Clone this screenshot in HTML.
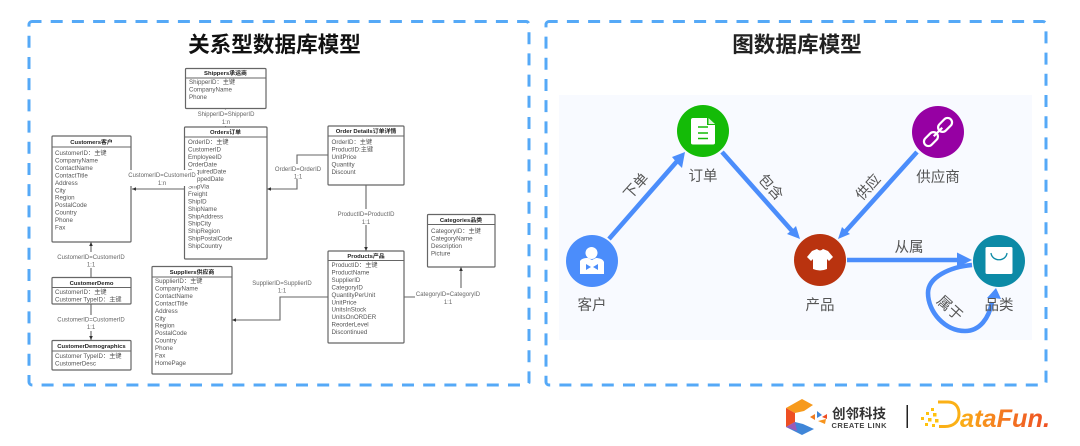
<!DOCTYPE html>
<html><head><meta charset="utf-8"><style>
html,body{margin:0;padding:0;background:#fff;width:1080px;height:446px;overflow:hidden}
svg{display:block}
.z{font-family:"Liberation Sans","Noto Sans CJK SC",sans-serif}
.r{font-size:6.2px;fill:#555}
.h{font-size:5.9px;fill:#222;font-weight:bold;text-anchor:middle}
.l{font-size:6px;fill:#666;text-anchor:middle}
.t{fill:#fff;stroke:#666;stroke-width:1.2}
.c{fill:none;stroke:#666;stroke-width:1.1}
.n{font-size:14.5px;fill:#555;text-anchor:middle}
</style></head><body>
<svg class="z" width="1080" height="446" viewBox="0 0 1080 446" xmlns="http://www.w3.org/2000/svg">
<defs>
<filter id="b" x="-5%" y="-5%" width="110%" height="110%"><feGaussianBlur stdDeviation="0.32"/></filter>
<linearGradient id="g" gradientUnits="userSpaceOnUse" x1="960" y1="0" x2="1050" y2="0"><stop offset="0" stop-color="#fbb016"/><stop offset=".45" stop-color="#f47b20"/><stop offset="1" stop-color="#ee4f23"/></linearGradient>
</defs>

<rect x="29" y="21.500" width="500" height="363.500" rx="3" fill="#fff" stroke="#55a9f7" stroke-width="3" stroke-dasharray="12 9.200" stroke-dashoffset="2.500"/>
<rect x="546" y="21.500" width="500" height="363.500" rx="3" fill="#fff" stroke="#55a9f7" stroke-width="3" stroke-dasharray="12 9.200" stroke-dashoffset="3.300"/>

<text x="274.500" y="52" text-anchor="middle" font-size="21.600" font-weight="bold" fill="#111">关系型数据库模型</text>
<text x="797" y="52" text-anchor="middle" font-size="21.600" font-weight="bold" fill="#222">图数据库模型</text>

<g filter="url(#b)">
<path class="c" d="M225.500 108V127M132 189H185M328 155H297V189H267M366 185V251M404 297H461V267M328 297H280V320H232M91 277V242M91 304V340"/>
<path d="M132 189l4-1.800v3.600zM267 189l4-1.800v3.600zM232 320l4-1.800v3.600zM366 251l-1.800-4h3.600zM461 267l-1.800 4h3.600zM91 242l-1.800 4h3.600zM91 340l-1.800-4h3.600z" fill="#333"/>

<rect class="t" x="185.500" y="68.500" width="80.500" height="40" rx="1"/><path class="c" d="M185.500 78H266"/>
<text class="h" x="225.500" y="75">Shippers承运商</text>
<text class="r" x="189" y="84">ShipperID：主键<tspan x="189" dy="7.450">CompanyName</tspan><tspan x="189" dy="7.450">Phone</tspan></text>

<rect class="t" x="184.500" y="127" width="82.500" height="132" rx="1"/><path class="c" d="M184.500 137H267"/>
<text class="h" x="225.500" y="134">Orders订单</text>
<text class="r" x="188" y="144">OrderID：主键<tspan x="188" dy="7.430">CustomerID</tspan><tspan x="188" dy="7.430">EmployeeID</tspan><tspan x="188" dy="7.430">OrderDate</tspan><tspan x="188" dy="7.430">RequiredDate</tspan><tspan x="188" dy="7.430">ShippedDate</tspan><tspan x="188" dy="7.430">ShipVia</tspan><tspan x="188" dy="7.430">Freight</tspan><tspan x="188" dy="7.430">ShipID</tspan><tspan x="188" dy="7.430">ShipName</tspan><tspan x="188" dy="7.430">ShipAddress</tspan><tspan x="188" dy="7.430">ShipCity</tspan><tspan x="188" dy="7.430">ShipRegion</tspan><tspan x="188" dy="7.430">ShipPostalCode</tspan><tspan x="188" dy="7.430">ShipCountry</tspan></text>

<rect class="t" x="52" y="136" width="79" height="106" rx="1"/><path class="c" d="M52 147H131"/>
<text class="h" x="91.500" y="144">Customers客户</text>
<text class="r" x="55" y="155">CustomerID：主键<tspan x="55" dy="7.450">CompanyName</tspan><tspan x="55" dy="7.450">ContactName</tspan><tspan x="55" dy="7.450">ContactTitle</tspan><tspan x="55" dy="7.450">Address</tspan><tspan x="55" dy="7.450">City</tspan><tspan x="55" dy="7.450">Region</tspan><tspan x="55" dy="7.450">PostalCode</tspan><tspan x="55" dy="7.450">Country</tspan><tspan x="55" dy="7.450">Phone</tspan><tspan x="55" dy="7.450">Fax</tspan></text>

<rect class="t" x="328" y="126" width="76" height="59" rx="1"/><path class="c" d="M328 136H404"/>
<text class="h" x="366" y="133">Order Details订单详情</text>
<text class="r" x="331.500" y="144">OrderID：主键<tspan x="331.500" dy="7.450">ProductID:主键</tspan><tspan x="331.500" dy="7.450">UnitPrice</tspan><tspan x="331.500" dy="7.450">Quantity</tspan><tspan x="331.500" dy="7.450">Discount</tspan></text>

<rect class="t" x="427.500" y="214.500" width="67.500" height="52.500" rx="1"/><path class="c" d="M427.500 224.500H495"/>
<text class="h" x="461" y="222">Categories品类</text>
<text class="r" x="431" y="233">CategoryID：主键<tspan x="431" dy="7.450">CategoryName</tspan><tspan x="431" dy="7.450">Description</tspan><tspan x="431" dy="7.450">Picture</tspan></text>

<rect class="t" x="328" y="251" width="76" height="92" rx="1"/><path class="c" d="M328 260.500H404"/>
<text class="h" x="366" y="258">Products产品</text>
<text class="r" x="331.500" y="267">ProductID：主键<tspan x="331.500" dy="7.450">ProductName</tspan><tspan x="331.500" dy="7.450">SupplierID</tspan><tspan x="331.500" dy="7.450">CategoryID</tspan><tspan x="331.500" dy="7.450">QuantityPerUnit</tspan><tspan x="331.500" dy="7.450">UnitPrice</tspan><tspan x="331.500" dy="7.450">UnitsInStock</tspan><tspan x="331.500" dy="7.450">UnitsOnORDER</tspan><tspan x="331.500" dy="7.450">ReorderLevel</tspan><tspan x="331.500" dy="7.450">Discontinued</tspan></text>

<rect class="t" x="152" y="266.500" width="80" height="107.500" rx="1"/><path class="c" d="M152 277H232"/>
<text class="h" x="192" y="274">Suppliers供应商</text>
<text class="r" x="155" y="283">SupplierID：主键<tspan x="155" dy="7.450">CompanyName</tspan><tspan x="155" dy="7.450">ContactName</tspan><tspan x="155" dy="7.450">ContactTitle</tspan><tspan x="155" dy="7.450">Address</tspan><tspan x="155" dy="7.450">City</tspan><tspan x="155" dy="7.450">Region</tspan><tspan x="155" dy="7.450">PostalCode</tspan><tspan x="155" dy="7.450">Country</tspan><tspan x="155" dy="7.450">Phone</tspan><tspan x="155" dy="7.450">Fax</tspan><tspan x="155" dy="7.450">HomePage</tspan></text>

<rect class="t" x="52" y="277.500" width="79" height="26.500" rx="1"/><path class="c" d="M52 287.500H131"/>
<text class="h" x="91.500" y="285">CustomerDemo</text>
<text class="r" x="55" y="294">CustomerID：主键<tspan x="55" dy="7.450">Customer TypeID：主键</tspan></text>

<rect class="t" x="52" y="340.500" width="79" height="29.500" rx="1"/><path class="c" d="M52 351H131"/>
<text class="h" x="91.500" y="348">CustomerDemographics</text>
<text class="r" x="55" y="358">Customer TypeID：主键<tspan x="55" dy="7.450">CustomerDesc</tspan></text>

<rect x="190" y="109.500" width="72" height="16.500" fill="#fff"/>
<rect x="127" y="170" width="70" height="16" fill="#fff"/>
<rect x="272" y="164" width="52" height="15" fill="#fff"/>
<rect x="335" y="209" width="62" height="16" fill="#fff"/>
<rect x="415" y="288" width="68" height="17" fill="#fff"/>
<rect x="251" y="278" width="62" height="15" fill="#fff"/>
<rect x="55" y="252" width="72" height="16" fill="#fff"/>
<rect x="55" y="315" width="72" height="16" fill="#fff"/>

<text class="l" x="226" y="116">ShipperID=ShipperID</text><text class="l" x="226" y="124">1:n</text>
<text class="l" x="162" y="177">CustomerID=CustomerID</text><text class="l" x="162" y="185">1:n</text>
<text class="l" x="298" y="171">OrderID=OrderID</text><text class="l" x="298" y="178.500">1:1</text>
<text class="l" x="366" y="216">ProductID=ProductID</text><text class="l" x="366" y="224">1:1</text>
<text class="l" x="448" y="296">CategoryID=CategoryID</text><text class="l" x="448" y="304">1:1</text>
<text class="l" x="282" y="285">SupplierID=SupplierID</text><text class="l" x="282" y="292.500">1:1</text>
<text class="l" x="91" y="259">CustomerID=CustomerID</text><text class="l" x="91" y="266.500">1:1</text>
<text class="l" x="91" y="321.500">CustomerID=CustomerID</text><text class="l" x="91" y="329">1:1</text>
</g>

<rect x="559" y="95" width="473" height="245" fill="#f8faff"/>

<g fill="none" stroke="#4b8dfb" stroke-width="4.600">
<path d="M609 239L679 159"/>
<path d="M722 152L793 232"/>
<path d="M917 152L845 232"/>
<path d="M847 260H962"/>
<path d="M972 265C950 267 928 277 928 293C928 312 945 331 965 331C980 331 989 318 992 302"/>
</g>
<g fill="#4b8dfb">
<path d="M685 152L682 168L677 163L672 157Z"/>
<path d="M800 239L787 234L792 230L796 226Z"/>
<path d="M838 239L842 227L846 231L850 234Z"/>
<path d="M972 260L957 252.500V267.500Z"/>
<path d="M996 288L1001 299L994 298L987 298Z"/>
</g>

<circle cx="592" cy="261" r="26" fill="#4b8dfb"/>
<circle cx="703" cy="131" r="26" fill="#14bb07"/>
<circle cx="820" cy="260" r="26" fill="#b9330f"/>
<circle cx="938" cy="132" r="26" fill="#9600a3"/>
<circle cx="999" cy="261" r="26" fill="#0c8aa6"/>

<circle cx="591.500" cy="253" r="6" fill="#fff"/>
<path d="M580 261C582 258 586 258 588 258L592 260L596 258C599 258 603 259 604 262V274H580Z" fill="#fff"/>
<path d="M586 264L591 267L586 270ZM598 264L593 267L598 270Z" fill="#4b8dfb"/>

<path d="M693 118H707V125H715V143Q715 144.500 713 144.500H693Q691 144.500 691 143V120Q691 118 693 118Z" fill="#fff"/>
<path d="M708.500 118L715 124H708.500Z" fill="#d8f5d5"/>
<path d="M698 127H708M698 133H708M698 138.500H708" stroke="#14bb07" stroke-width="1.600"/>

<g fill="none" stroke="#fff" stroke-width="2.200" transform="rotate(-45 938 132)">
<rect x="920" y="127.500" width="16" height="9" rx="4.500"/>
<rect x="940" y="127.500" width="16" height="9" rx="4.500"/>
<path d="M932 132H944"/>
</g>

<path d="M812 251L817 249Q820 252 823 249L828 251L833 257L829 261L827 259V269Q820 272 813 269V259L811 261L807 257Z" fill="#fff"/>

<rect x="985.500" y="247" width="27" height="27" rx="1.500" fill="#fff"/>
<path d="M991 253C992 262 1006 262 1007 253" fill="none" stroke="#0c8aa6" stroke-width="1.300"/>

<text class="n" x="592" y="310">客户</text>
<text class="n" x="703" y="181">订单</text>
<text class="n" x="820" y="310">产品</text>
<text class="n" x="938" y="182">供应商</text>
<text class="n" x="999" y="310">品类</text>
<text class="n" x="0" y="5" transform="translate(636 186) rotate(-48)">下单</text>
<text class="n" x="0" y="5" transform="translate(771 187) rotate(48)">包含</text>
<text class="n" x="0" y="5" transform="translate(868 187) rotate(-48)">供应</text>
<text class="n" x="909" y="252">从属</text>
<text class="n" x="0" y="5" transform="translate(950 308) rotate(42)">属于</text>

<path d="M802 399L813 405L804 411L795 413L786 408Z" fill="#f79a1c"/>
<path d="M786 408L795 413V422L786 427Z" fill="#ee4f23"/>
<path d="M786 427L795 422L803 424L814 429L802 435Z" fill="#3f86d8"/>
<path d="M786 427L795 422L797 431Z" fill="#9a5bb8"/>
<path d="M810 417L815 414V420Z" fill="#ef7b1f"/>
<path d="M817 411L822 415L817 418Z" fill="#3f86d8"/>
<path d="M827 414L822 417L827 419Z" fill="#f04e23"/>
<path d="M818 421L826 419L825 424Z" fill="#f7941d"/>
<text x="859" y="418.500" text-anchor="middle" font-size="13.500" font-weight="bold" fill="#333">创邻科技</text>
<text x="859" y="428" text-anchor="middle" font-size="7.500" font-weight="bold" fill="#444" textLength="55">CREATE LINK</text>
<rect x="906.500" y="405" width="1.500" height="23" fill="#222"/>

<g fill="#ffc20e">
<rect x="931" y="408" width="3" height="3"/><rect x="926" y="412" width="3" height="3"/><rect x="933" y="413" width="3.500" height="3.500"/><rect x="921" y="417" width="3" height="3"/><rect x="928" y="418" width="3.500" height="3.500"/><rect x="935" y="419" width="3.500" height="3.500"/><rect x="925" y="423" width="3" height="3"/><rect x="932" y="424" width="3" height="3"/>
</g>
<path d="M938 402H948C956 402 959 408 959 414C959 422 953 426.500 945 426.500H939" fill="none" stroke="#fbb016" stroke-width="3"/>
<text x="960" y="427" font-size="25" font-weight="bold" font-style="italic" fill="url(#g)" textLength="90" lengthAdjust="spacingAndGlyphs">ataFun.</text>
</svg>
</body></html>
